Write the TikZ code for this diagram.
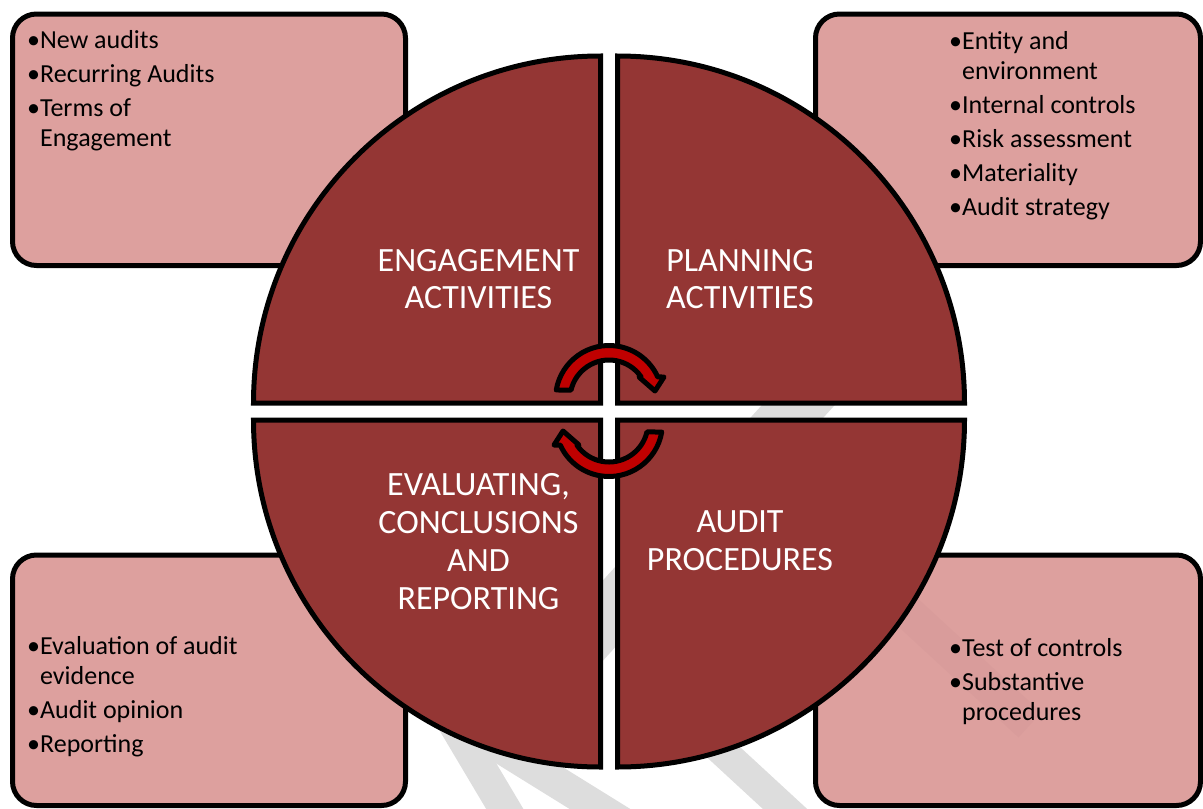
\documentclass[tikz,border=0pt]{standalone}
\usepackage{fontspec}
\setmainfont{Carlito}
\definecolor{phasered}{HTML}{943634}
\definecolor{notepink}{HTML}{D99694}
\definecolor{cyclered}{HTML}{C00000}
\definecolor{bandgray}{HTML}{DDDDDD}
\tikzset{
  wmband/.style={draw=bandgray, line cap=butt},
  notebox/.style={fill=notepink, fill opacity=0.9, draw=black, line width=5pt, rounded corners=24pt},
  phase/.style={fill=phasered, draw=black, line width=5pt, line join=miter},
  phaselabel/.style={text=white, align=center, inner sep=0pt, font=\fontsize{34}{37.8}\selectfont},
  notetext/.style={anchor=north west, inner sep=0pt, font=\fontsize{26}{30}\selectfont},
  cyclearrow/.pic={
    \filldraw[fill=cyclered, draw=black, line width=5pt, line join=round]
      (193.3:39) -- (189.7:53.5) arc[start angle=189.7, end angle=335.7, radius=53.5]
      -- (55,-22) -- (46,-8) -- (30,-22) -- (325.7:39)
      arc[start angle=325.7, end angle=193.3, radius=39] -- cycle;
  }
}
\begin{document}
\begin{tikzpicture}[x=1pt, y=-1pt]
    \useasboundingbox (0,0) rectangle (1203,809);
    % Watermark bands (behind everything)
    \draw[wmband, line width=54pt] (880,315) -- (520,712);
    \draw[wmband, line width=32pt] (440,700) -- (550,885);
    \draw[wmband, line width=32pt] (450,716) -- (700,871);
    \draw[wmband, line width=30pt] (700.5,731) -- (900,915);
    \draw[wmband, line width=34pt] (850,559) -- (1030,725);
    % Corner boxes
    \draw[notebox] (12.5,14) rectangle (405.5,265.5);
    \draw[notebox] (815.5,14) rectangle (1200.5,265.5);
    \draw[notebox] (12.5,555) rectangle (405.5,805.5);
    \draw[notebox] (815.5,555) rectangle (1200.5,805.5);
    % Four quarters of the circle
    \draw[phase] (600.5,403) -- (253.5,403) arc[start angle=180, end angle=270, radius=347] -- cycle;
    \draw[phase] (617.5,403) -- (617.5,56) arc[start angle=270, end angle=360, radius=347] -- cycle;
    \draw[phase] (617.5,420) -- (964.5,420) arc[start angle=0, end angle=90, radius=347] -- cycle;
    \draw[phase] (600.5,420) -- (600.5,767) arc[start angle=90, end angle=180, radius=347] -- cycle;
    % Cycle arrows in the middle
    \pic at (609,399) {cyclearrow};
    \pic[rotate=180] at (609,423) {cyclearrow};
    % Phase names
    \node[phaselabel] (engage) at (478.5,279) {ENGAGEMENT\\ACTIVITIES};
    \node[phaselabel] (plan) at (740,279) {PLANNING\\ACTIVITIES};
    \node[phaselabel] (conclude) at (478.5,541.6) {EVALUATING,\\CONCLUSIONS\\AND\\REPORTING};
    \node[phaselabel] (procedures) at (740,540.5) {AUDIT\\PROCEDURES};
    % Box contents
    \node[notetext] (engagelist) at (27,27.3) {\begin{tabular}{@{}l@{}l@{}}
        •&New audits\\[4pt]
        •&Recurring Audits\\[4pt]
        •&Terms of\\
        &Engagement
      \end{tabular}};
    \node[notetext] (planlist) at (949,28) {\begin{tabular}{@{}l@{}l@{}}
        •&Entity and\\
        &environment\\[4pt]
        •&Internal controls\\[4pt]
        •&Risk assessment\\[4pt]
        •&Materiality\\[4pt]
        •&Audit strategy
      \end{tabular}};
    \node[notetext] (concludelist) at (27,633) {\begin{tabular}{@{}l@{}l@{}}
        •&Evaluation of audit\\
        &evidence\\[4pt]
        •&Audit opinion\\[4pt]
        •&Reporting
      \end{tabular}};
    \node[notetext] (procedurelist) at (949,635) {\begin{tabular}{@{}l@{}l@{}}
        •&Test of controls\\[4pt]
        •&Substantive\\
        &procedures
      \end{tabular}};
\end{tikzpicture}
\end{document}
